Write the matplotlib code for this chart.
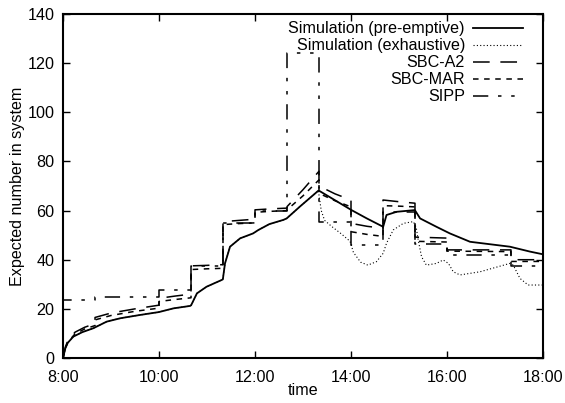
import matplotlib
matplotlib.use("Agg")
import matplotlib.pyplot as plt
from matplotlib.ticker import FuncFormatter, MultipleLocator

# ---------------- data (time in hours) ----------------
pre_t = [8.0, 8.05, 8.1, 8.215, 8.4, 8.63, 8.91, 9.2, 9.6, 10.0, 10.3, 10.65, 10.67,
         10.79, 10.99, 11.3, 11.33, 11.375, 11.48, 11.69, 11.96, 12.07, 12.3, 12.59,
         12.66, 12.94, 13.32, 13.35, 13.77, 14.01, 14.33, 14.67, 14.74, 14.95, 15.33,
         15.44, 15.78, 16.06, 16.48, 17.31, 17.73, 18.0]
pre_v = [0, 4, 6.2, 8.7, 10.5, 12.1, 14.8, 16.2, 17.5, 18.7, 20.2, 21.2, 21.5,
         26.3, 29, 31.7, 32, 38.5, 45.3, 48.7, 50.7, 52.1, 54.5, 56.2,
         56.8, 61.7, 68.1, 67.9, 63, 60.2, 56.8, 53.4, 58.2, 59.5, 60.2,
         56.8, 53.4, 50.7, 47.3, 45.3, 43.3, 42.2]

exh_t = [8.0, 8.05, 8.1, 8.215, 8.4, 8.63, 8.91, 9.2, 9.6, 10.0, 10.3, 10.65, 10.67,
         10.79, 10.99, 11.3, 11.33, 11.375, 11.48, 11.69, 11.96, 12.07, 12.3, 12.59,
         12.66, 12.94, 13.32, 13.38, 13.45, 13.6, 13.8, 13.98, 14.05, 14.2, 14.35,
         14.53, 14.67, 14.74, 14.88, 15.09, 15.3, 15.36, 15.4, 15.47, 15.57, 15.78,
         15.92, 16.03, 16.13, 16.27, 16.69, 17.31, 17.38, 17.52, 17.69, 18.0]
exh_v = [0, 4, 6.2, 8.7, 10.5, 12.1, 14.8, 16.2, 17.5, 18.7, 20.2, 21.2, 21.5,
         26.3, 29, 31.7, 32, 38.5, 45.3, 48.7, 50.7, 52.1, 54.5, 56.2,
         56.8, 61.7, 68.1, 60, 56, 53.5, 50.5, 47.5, 43, 39, 37.8,
         39.2, 42.6, 46.7, 52.1, 54.8, 55.5, 53, 48, 41.2, 37.8, 38.5,
         39.9, 38.5, 35.1, 33.8, 35.1, 38.5, 37.8, 32.4, 29.7, 29.7]

a2_t = [8.0, 8.05, 8.1, 8.25, 8.45, 8.667, 8.667, 9.0, 9.5, 10.0, 10.0, 10.333, 10.667,
        10.667, 11.0, 11.333, 11.333, 11.667, 12.0, 12.0, 12.333, 12.667, 12.667, 13.0,
        13.333, 13.333, 13.667, 14.0, 14.0, 14.333, 14.667, 14.667, 15.0, 15.333,
        15.333, 16.0, 16.0, 16.667, 17.333, 17.333, 18.0]
a2_v = [0, 4.5, 7, 10.5, 12.5, 14, 16.5, 18.3, 20, 21.5, 24.3, 25.2, 26,
        37.5, 37.7, 38, 55.5, 56, 56.5, 60.3, 60.7, 61, 61.6, 68.5,
        76, 70, 66.8, 64.3, 54.8, 53.6, 52.8, 64.3, 63.6, 63,
        49.2, 48.8, 44, 44, 44, 40, 40]

mar_t = [8.0, 8.05, 8.1, 8.25, 8.45, 8.667, 8.667, 9.0, 9.5, 10.0, 10.0, 10.333, 10.667,
         10.667, 11.0, 11.333, 11.333, 11.667, 12.0, 12.0, 12.333, 12.667, 12.667, 13.0,
         13.333, 13.333, 13.667, 14.0, 14.0, 14.333, 14.667, 14.667, 15.0, 15.333,
         15.333, 16.0, 16.0, 17.333, 17.333, 18.0]
mar_v = [0, 4, 6.5, 9.8, 11.8, 13.2, 15.5, 17.3, 19, 20.3, 23, 23.8, 24.5,
         36, 36.3, 36.5, 54.3, 54.7, 55, 59.3, 59.7, 60, 60.3, 66,
         72.5, 67, 64, 61.5, 51.4, 50.3, 49.5, 62, 61.8, 61.5,
         47.5, 47.2, 43.5, 43.3, 39.3, 39.3]

sipp_edges = [8.0, 8.667, 10.0, 10.667, 11.333, 12.0, 12.667, 13.333, 14.0, 14.667,
              15.333, 16.0, 17.333, 18.0]
sipp_levels = [23.6, 25, 27.5, 37.3, 55, 60, 124, 55.5, 46, 59.5, 46.5, 42, 37.5]

labels = ["Simulation (pre-emptive)", "Simulation (exhaustive)", "SBC-A2", "SBC-MAR", "SIPP"]
xticks = [8, 10, 12, 14, 16, 18]

# ---------------- plot ----------------
plt.rcParams['font.family'] = ['Liberation Sans', 'DejaVu Sans']
plt.rcParams['lines.scale_dashes'] = False
FS = 11.6

fig = plt.figure(figsize=(5.65, 4.03), dpi=100)
ax = fig.add_axes([63/565, 1-358/403, 480/565, 344/403])

ax.plot(pre_t, pre_v, color='black', lw=1.3, label=labels[0])
ax.plot(exh_t, exh_v, color='black', lw=0.8, linestyle=(0, (0.8, 1.6)), label=labels[1])
ax.plot(a2_t, a2_v, color='black', lw=1.1, linestyle=(0, (12, 7.7)), label=labels[2])
ax.plot(mar_t, mar_v, color='black', lw=1.1, linestyle=(0, (4, 4)), label=labels[3])
sx = [sipp_edges[0]] + sipp_edges
sy = [0] + sipp_levels + [sipp_levels[-1]]
ax.step(sx, sy, where='post', color='black', lw=1.1,
        linestyle=(0, (11, 7, 2.5, 7, 2.5, 7)), label=labels[4])

ax.set_xlim(8, 18)
ax.set_ylim(0, 140)
ax.set_xticks(xticks)
ax.xaxis.set_major_formatter(FuncFormatter(lambda v, p: f"{int(v)}:00"))
ax.yaxis.set_major_locator(MultipleLocator(20))
ax.tick_params(direction='in', length=5, width=1, top=True, right=True,
               labelsize=FS)
ax.tick_params(axis='x', pad=8.5)
ax.tick_params(axis='y', pad=6)
for s in ax.spines.values():
    s.set_linewidth(1.5)
ax.set_xlabel("time", fontsize=FS, labelpad=-1)
ax.set_ylabel("Expected number in system", fontsize=FS, labelpad=2)

ax.legend(loc='upper right', markerfirst=False, frameon=False, fontsize=FS,
          handlelength=3.1, handletextpad=0.48, labelspacing=0.12,
          borderaxespad=0.0, bbox_to_anchor=(0.971, 0.997))

fig.savefig("out.png", dpi=100)
